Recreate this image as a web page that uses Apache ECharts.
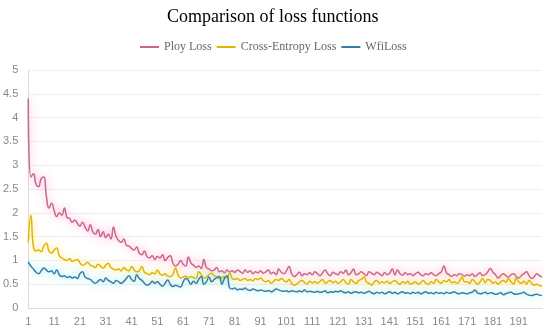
<!DOCTYPE html>
<html><head><meta charset="utf-8">
<script src="https://cdn.jsdelivr.net/npm/echarts@6/dist/echarts.min.js"></script>
<style>html,body{margin:0;padding:0;background:#fff}#c{width:550px;height:328px}</style>
</head><body><div id="c"></div>
<script>
var categories = [];
for (var k = 1; k <= 200; k++) categories.push(String(k));

var ployLoss = [
4.4,2.75,2.82,2.6,2.55,2.72,2.75,2.35,2.1,2.2,
2.05,1.92,2.0,1.95,2.1,1.9,1.88,1.8,1.85,1.78,
1.72,1.8,1.7,1.62,1.75,1.6,1.55,1.65,1.5,1.6,
1.48,1.55,1.45,1.7,1.5,1.42,1.38,1.45,1.32,1.3,
1.25,1.22,1.28,1.15,1.12,1.2,1.08,1.05,1.1,1.02,
1.08,1.05,1.12,1.0,1.06,1.1,0.95,0.88,0.92,1.0,
0.92,0.88,1.07,0.95,0.9,0.85,0.88,0.83,1.02,0.85,
0.82,0.78,0.8,0.85,0.76,0.78,0.74,0.8,0.76,0.78,
0.75,0.8,0.77,0.73,0.8,0.75,0.78,0.72,0.76,0.74,
0.78,0.73,0.76,0.8,0.72,0.75,0.7,0.82,0.75,0.72,
0.78,0.87,0.72,0.66,0.7,0.75,0.68,0.72,0.7,0.74,
0.7,0.76,0.72,0.68,0.74,0.8,0.72,0.68,0.75,0.72,
0.7,0.76,0.73,0.8,0.7,0.74,0.82,0.7,0.72,0.76,
0.72,0.68,0.76,0.73,0.7,0.75,0.72,0.68,0.74,0.7,
0.73,0.82,0.7,0.8,0.72,0.69,0.74,0.7,0.72,0.68,
0.72,0.75,0.7,0.68,0.72,0.7,0.74,0.7,0.68,0.72,
0.76,0.88,0.74,0.7,0.66,0.7,0.68,0.72,0.7,0.67,
0.7,0.68,0.72,0.66,0.7,0.74,0.68,0.7,0.76,0.83,
0.75,0.7,0.63,0.68,0.72,0.68,0.65,0.7,0.72,0.66,
0.63,0.68,0.72,0.76,0.68,0.62,0.66,0.72,0.68,0.65
];

var crossEntropyLoss = [
1.38,1.95,1.28,1.2,1.22,1.18,1.3,1.36,1.2,1.15,
1.22,1.26,1.1,1.05,1.02,1.0,1.04,0.98,1.0,1.02,
0.95,0.9,0.92,0.96,0.9,0.88,0.85,0.92,0.88,0.84,
0.9,0.94,0.85,0.82,0.8,0.82,0.78,0.85,0.8,0.78,
0.87,0.8,0.76,0.78,0.87,0.75,0.72,0.7,0.74,0.72,
0.8,0.72,0.69,0.72,0.67,0.66,0.7,0.84,0.7,0.63,
0.65,0.67,0.63,0.66,0.64,0.62,0.76,0.7,0.63,0.65,
0.7,0.73,0.68,0.65,0.62,0.64,0.66,0.63,0.74,0.62,
0.6,0.62,0.58,0.6,0.62,0.58,0.6,0.57,0.62,0.6,
0.63,0.58,0.55,0.58,0.52,0.56,0.6,0.58,0.62,0.58,
0.55,0.6,0.52,0.48,0.5,0.55,0.58,0.54,0.5,0.56,
0.53,0.55,0.52,0.56,0.6,0.52,0.55,0.58,0.53,0.56,
0.52,0.55,0.6,0.53,0.5,0.6,0.55,0.52,0.58,0.6,
0.65,0.55,0.52,0.48,0.55,0.58,0.52,0.55,0.53,0.56,
0.52,0.55,0.58,0.53,0.5,0.55,0.52,0.56,0.5,0.52,
0.55,0.5,0.53,0.58,0.52,0.5,0.55,0.52,0.6,0.55,
0.52,0.58,0.55,0.6,0.53,0.55,0.52,0.56,0.65,0.55,
0.55,0.52,0.6,0.55,0.5,0.55,0.62,0.53,0.6,0.58,
0.52,0.55,0.5,0.55,0.58,0.54,0.62,0.55,0.5,0.63,
0.55,0.52,0.56,0.5,0.58,0.52,0.48,0.5,0.47,0.46
];

var wfiLoss = [
0.97,0.88,0.82,0.75,0.72,0.78,0.84,0.8,0.76,0.78,
0.72,0.8,0.7,0.66,0.68,0.64,0.66,0.63,0.65,0.62,
0.72,0.76,0.65,0.62,0.6,0.55,0.52,0.56,0.6,0.55,
0.63,0.58,0.55,0.52,0.58,0.55,0.52,0.56,0.62,0.68,
0.6,0.56,0.7,0.62,0.58,0.52,0.48,0.5,0.56,0.52,
0.55,0.5,0.46,0.52,0.59,0.5,0.45,0.48,0.46,0.44,
0.55,0.62,0.58,0.5,0.56,0.52,0.6,0.66,0.5,0.55,
0.65,0.55,0.6,0.64,0.66,0.5,0.62,0.68,0.42,0.4,
0.42,0.38,0.4,0.39,0.42,0.38,0.37,0.4,0.38,0.36,
0.38,0.36,0.35,0.37,0.34,0.36,0.4,0.38,0.36,0.35,
0.36,0.34,0.36,0.35,0.34,0.36,0.34,0.38,0.34,0.35,
0.34,0.33,0.35,0.33,0.34,0.36,0.32,0.34,0.33,0.35,
0.34,0.36,0.33,0.32,0.34,0.31,0.33,0.34,0.32,0.33,
0.31,0.33,0.35,0.32,0.3,0.33,0.31,0.33,0.3,0.32,
0.34,0.31,0.33,0.3,0.32,0.34,0.31,0.32,0.3,0.33,
0.31,0.33,0.3,0.32,0.34,0.31,0.32,0.3,0.33,0.31,
0.32,0.3,0.33,0.31,0.32,0.34,0.31,0.3,0.32,0.31,
0.3,0.32,0.33,0.38,0.32,0.3,0.31,0.33,0.3,0.32,
0.31,0.29,0.3,0.32,0.28,0.3,0.32,0.33,0.3,0.29,
0.3,0.31,0.33,0.29,0.27,0.26,0.28,0.29,0.27,0.26
];

var seriesNames = ['Ploy Loss', 'Cross-Entropy Loss', 'WfiLoss'];

var chart = echarts.init(document.getElementById('c'));
function mk(name, data, color, glow) {
  return {
    name: name, type: 'line', data: data, smooth: true, symbol: 'none',
    itemStyle: { color: color },
    lineStyle: { color: color, width: 1.5, shadowColor: glow, shadowBlur: 8, shadowOffsetY: 0 }
  };
}
chart.setOption({
  animation: false,
  backgroundColor: '#fff',
  title: {
    text: 'Comparison of loss functions', left: 162, top: 3,
    textStyle: { fontFamily: 'Liberation Serif', fontWeight: 'normal', fontSize: 18, color: '#000' }
  },
  legend: {
    data: seriesNames, top: 36, left: 135, icon: 'rect', itemWidth: 19, itemHeight: 2, itemGap: 5,
    textStyle: { fontFamily: 'Liberation Serif', fontSize: 12, color: '#666' }
  },
  grid: { left: 27, right: 8, top: 70, bottom: 20, containLabel: false },
  xAxis: {
    type: 'category', data: categories, boundaryGap: false,
    axisLine: { lineStyle: { color: '#ddd' } },
    axisTick: { show: false },
    axisLabel: { interval: 9, color: '#888', fontSize: 11, margin: 8 },
    splitLine: { show: false }
  },
  yAxis: {
    type: 'value', min: 0, max: 5, interval: 0.5,
    axisLine: { show: true, lineStyle: { color: '#ddd' } },
    axisTick: { show: false },
    axisLabel: { color: '#888', fontSize: 11, margin: 10 },
    splitLine: { lineStyle: { color: '#eee' } }
  },
  series: [
    mk(seriesNames[0], ployLoss, '#c8668e', 'rgba(255,140,190,0.9)'),
    mk(seriesNames[1], crossEntropyLoss, '#e2b400', 'rgba(255,225,90,0.9)'),
    mk(seriesNames[2], wfiLoss, '#3a7ea6', 'rgba(100,230,230,0.9)')
  ]
});
</script></body></html>
